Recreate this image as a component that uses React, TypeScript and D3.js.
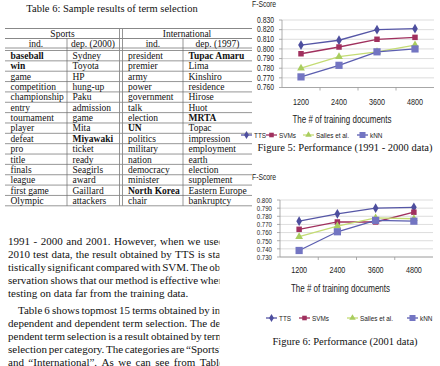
import React from "react";
import * as d3 from "d3";

// ---- table data ----
const tableTitle = "Table 6: Sample results of term selection";
const groupHeaders = ["Sports", "International"];
const colHeaders = ["ind.", "dep. (2000)", "ind.", "dep. (1997)"];
const sportsInd = ["baseball", "win", "game", "competition", "championship", "entry", "tournament", "player", "defeat", "pro", "title", "finals", "league", "first game", "Olympic"];
const sportsDep = ["Sydney", "Toyota", "HP", "hung-up", "Paku", "admission", "game", "Mita", "Miyawaki", "ticket", "ready", "Seagirls", "award", "Gaillard", "attackers"];
const intlInd = ["president", "premier", "army", "power", "government", "talk", "election", "UN", "politics", "military", "nation", "democracy", "minister", "North Korea", "chair"];
const intlDep = ["Tupac Amaru", "Lima", "Kinshiro", "residence", "Hirose", "Huot", "MRTA", "Topac", "impression", "employment", "earth", "election", "supplement", "Eastern Europe", "bankruptcy"];
const boldTerms = ["baseball", "win", "Miyawaki", "UN", "North Korea", "Tupac Amaru", "MRTA"];

// ---- body text ----
const para1 = [
  "1991 - 2000 and 2001. However, when we used",
  "2010 test data, the result obtained by TTS is sta-",
  "tistically significant compared with SVM. The ob-",
  "servation shows that our method is effective when",
  "testing on data far from the training data.",
];
const para2 = [
  "Table 6 shows topmost 15 terms obtained by in-",
  "dependent and dependent term selection. The de-",
  "pendent term selection is a result obtained by term",
  "selection per category. The categories are \u201CSports\u201D",
  "and \u201CInternational\u201D. As we can see from Table",
];

// ---- chart data ----
const trainSizes = ["1200", "2400", "3600", "4800"];
const seriesNames = ["TTS", "SVMs", "Salles et al.", "kNN"];
const fig5TTS = [0.804, 0.809, 0.820, 0.821];
const fig5SVM = [0.795, 0.802, 0.810, 0.812];
const fig5Salles = [0.780, 0.792, 0.797, 0.804];
const fig5KNN = [0.771, 0.783, 0.797, 0.800];
const fig5Ticks = [0.76, 0.77, 0.78, 0.79, 0.8, 0.81, 0.82, 0.83];
const fig6TTS = [0.774, 0.783, 0.790, 0.791];
const fig6SVM = [0.764, 0.773, 0.773, 0.785];
const fig6Salles = [0.755, 0.768, 0.778, 0.777];
const fig6KNN = [0.738, 0.761, 0.775, 0.774];
const fig6Ticks = [0.73, 0.74, 0.75, 0.76, 0.77, 0.78, 0.79, 0.8];

const SERIF = "'Liberation Serif', 'Times New Roman', serif";
const SANS = "'Liberation Sans', Arial, sans-serif";

const seriesStyle = [
  { line: "#5556a6", fill: "#4d4e9e", symbol: d3.symbolDiamond, size: 28 },
  { line: "#a0305e", fill: "#a0305e", symbol: d3.symbolSquare, size: 30 },
  { line: "#c4dc74", fill: "#a9cd5f", symbol: d3.symbolTriangle, size: 26 },
  { line: "#5b5eb0", fill: "#7375c2", symbol: d3.symbolSquare, size: 52 },
];

let measureCtx: CanvasRenderingContext2D | null = null;
function textWidth(s: string, font: string) {
  if (!measureCtx) measureCtx = document.createElement("canvas").getContext("2d");
  if (!measureCtx) return s.length * 5;
  measureCtx.font = font;
  return measureCtx.measureText(s).width;
}

// condensed sans text, like Arial Narrow in the charts
function Narrow({ x, y, size, anchor, children }: { x: number; y: number; size: number; anchor?: string; children: React.ReactNode }) {
  return (
    <text transform={`translate(${x},${y}) scale(0.8,1)`} fontSize={size} fontFamily={SANS} textAnchor={anchor || "start"} fill="#222">
      {children}
    </text>
  );
}

// one justified (or ragged) line of body text
function TextLine({ line, x, y, width, justify }: { line: string; x: number; y: number; width: number; justify: boolean }) {
  const font = `11px "Liberation Serif"`;
  const words = line.split(" ");
  const widths = words.map((w) => textWidth(w, font));
  const space = textWidth(" ", font);
  const gap = justify && words.length > 1 ? (width - d3.sum(widths)) / (words.length - 1) : space;
  let cx = x;
  return (
    <g>
      {words.map((w, i) => {
        const px = cx;
        cx += widths[i] + gap;
        return (
          <text key={i} x={px} y={y} fontSize={11} fontFamily={SERIF} fill="#111">
            {w}
          </text>
        );
      })}
    </g>
  );
}

function Table() {
  const cols = [sportsInd, sportsDep, intlInd, intlDep];
  const colEdges = [5, 67, 121, 183, 252];
  const rows = d3.scaleBand<number>().domain(d3.range(15)).range([50.5, 205.8]);
  const line = "#6a6a6a";
  return (
    <g fontFamily={SERIF} fill="#111">
      <text x={112} y={11.5} fontSize={10.5} textAnchor="middle">{tableTitle}</text>
      <line x1={5} x2={252} y1={28.5} y2={28.5} stroke={line} strokeWidth={0.8} />
      <line x1={5} x2={252} y1={38.5} y2={38.5} stroke={line} strokeWidth={0.8} />
      <line x1={5} x2={252} y1={48} y2={48} stroke="#888" strokeWidth={0.9} />
      <line x1={5} x2={252} y1={50.5} y2={50.5} stroke="#888" strokeWidth={0.9} />
      {rows.domain().map((r) => (
        <line key={r} x1={5} x2={252} y1={(rows(r) as number) + rows.bandwidth()} y2={(rows(r) as number) + rows.bandwidth()} stroke={line} strokeWidth={0.7} />
      ))}
      <line x1={colEdges[1]} x2={colEdges[1]} y1={38.5} y2={205.8} stroke={line} strokeWidth={0.7} />
      <line x1={colEdges[3]} x2={colEdges[3]} y1={38.5} y2={205.8} stroke={line} strokeWidth={0.7} />
      <line x1={119.5} x2={119.5} y1={28.5} y2={205.8} stroke="#888" strokeWidth={0.9} />
      <line x1={122.5} x2={122.5} y1={28.5} y2={205.8} stroke="#888" strokeWidth={0.9} />
      <text x={(colEdges[0] + 120) / 2} y={36.5} fontSize={9.5} textAnchor="middle">{groupHeaders[0]}</text>
      <text x={(122 + colEdges[4]) / 2} y={36.5} fontSize={9.5} textAnchor="middle">{groupHeaders[1]}</text>
      {colHeaders.map((h, i) => (
        <text key={h + i} x={(colEdges[i] + colEdges[i + 1]) / 2 + (i === 1 ? -1 : i === 2 ? 1 : 0)} y={46.5} fontSize={9.5} textAnchor="middle">{h}</text>
      ))}
      {cols.map((col, ci) =>
        col.map((term, ri) => (
          <text
            key={ci + "-" + ri}
            x={colEdges[ci] + (ci === 2 ? 7 : 5.5)}
            y={(rows(ri) as number) + rows.bandwidth() / 2 + 3.3}
            fontSize={9.5}
            fontWeight={boldTerms.includes(term) && !(ci === 3 && term === "election") ? "bold" : "normal"}
          >
            {term}
          </text>
        ))
      )}
    </g>
  );
}

type ChartProps = {
  series: number[][];
  ticks: number[];
  tickSize: number;
  xRange: [number, number];
  yRange: [number, number];
  fscoreY: number;
  xLabelY: number;
  titleY: number;
  legendY: number;
  legendX: number[];
  caption: string;
  captionY: number;
};

function LineChart(p: ChartProps) {
  const x = d3.scaleBand<string>().domain(trainSizes).range(p.xRange);
  const y = d3.scaleLinear().domain([p.ticks[0], p.ticks[p.ticks.length - 1]]).range(p.yRange);
  const cx = (d: string) => (x(d) as number) + x.bandwidth() / 2;
  const line = d3.line<number>().x((_, i) => cx(trainSizes[i])).y((v) => y(v));
  const [x0, x1] = p.xRange;
  const yBottom = p.yRange[0];
  const sym = (i: number, k = 1) => d3.symbol().type(seriesStyle[i].symbol).size(seriesStyle[i].size * k)() as string;
  return (
    <g>
      <Narrow x={252} y={p.fscoreY} size={8.5}>F-Score</Narrow>
      {p.ticks.map((t) => (
        <g key={t}>
          <line x1={x0} x2={x1} y1={y(t)} y2={y(t)} stroke="#d4d4d4" strokeWidth={0.8} />
          <line x1={x0 - 3} x2={x0} y1={y(t)} y2={y(t)} stroke="#999" strokeWidth={0.8} />
          <Narrow x={x0 - 8} y={y(t) + 2.8} size={p.tickSize} anchor="end">
            {d3.format(".3f")(t)}
          </Narrow>
        </g>
      ))}
      <line x1={x0} x2={x0} y1={p.yRange[1]} y2={yBottom} stroke="#999" strokeWidth={0.8} />
      <line x1={x0} x2={x1} y1={yBottom} y2={yBottom} stroke="#999" strokeWidth={0.8} />
      {trainSizes.slice(1).map((d) => (
        <line key={d} x1={x(d)} x2={x(d)} y1={yBottom} y2={yBottom + 3} stroke="#999" strokeWidth={0.8} />
      ))}
      {trainSizes.map((d) => (
        <Narrow key={d} x={cx(d)} y={p.xLabelY} size={9} anchor="middle">{d}</Narrow>
      ))}
      <Narrow x={(x0 + x1) / 2 - 16} y={p.titleY} size={10} anchor="middle">
        The # of training documents
      </Narrow>
      {p.series.map((vals, si) => (
        <g key={si}>
          <path d={line(vals) as string} fill="none" stroke={seriesStyle[si].line} strokeWidth={1.3} />
          {vals.map((v, i) => (
            <path key={i} d={sym(si)} transform={`translate(${cx(trainSizes[i])},${y(v)})`} fill={seriesStyle[si].fill} />
          ))}
        </g>
      ))}
      {seriesNames.map((n, si) => (
        <g key={n}>
          <line x1={p.legendX[si]} x2={p.legendX[si] + 11} y1={p.legendY} y2={p.legendY} stroke={seriesStyle[si].line} strokeWidth={1.3} />
          <path d={sym(si, 0.7)} transform={`translate(${p.legendX[si] + 5.5},${p.legendY})`} fill={seriesStyle[si].fill} />
          <Narrow x={p.legendX[si] + 13} y={p.legendY + 3} size={8}>{n}</Narrow>
        </g>
      ))}
      <text x={345} y={p.captionY} fontSize={10.5} fontFamily={SERIF} textAnchor="middle" fill="#111">{p.caption}</text>
    </g>
  );
}

export default function App() {
  const lineH = 13.1;
  return (
    <svg width={440} height={366} style={{ position: "absolute", left: 0, top: 0, background: "#fff" }}>
      <rect width={440} height={366} fill="#fff" />
      <Table />
      <defs>
        <clipPath id="textClip">
          <rect x={0} y={225} width={219.5} height={141} />
        </clipPath>
      </defs>
      <g clipPath="url(#textClip)">
        {para1.map((l, i) => (
          <TextLine key={"a" + i} line={l} x={8} y={245 + i * lineH} width={216} justify={i < para1.length - 1} />
        ))}
        {para2.map((l, i) => (
          <TextLine key={"b" + i} line={l} x={i === 0 ? 18 : 8} y={313.5 + i * lineH} width={i === 0 ? 206 : 216} justify={true} />
        ))}
      </g>
      <LineChart
        series={[fig5TTS, fig5SVM, fig5Salles, fig5KNN]}
        ticks={fig5Ticks}
        tickSize={8.5}
        xRange={[282, 434]}
        yRange={[87.5, 20]}
        fscoreY={7}
        xLabelY={105}
        titleY={123}
        legendY={135}
        legendX={[241, 266, 303, 357]}
        caption="Figure 5: Performance (1991 - 2000 data)"
        captionY={151}
      />
      <LineChart
        series={[fig6TTS, fig6SVM, fig6Salles, fig6KNN]}
        ticks={fig6Ticks}
        tickSize={7.6}
        xRange={[280, 433]}
        yRange={[257, 200]}
        fscoreY={180}
        xLabelY={273}
        titleY={292}
        legendY={318}
        legendX={[266, 299, 347, 407]}
        caption="Figure 6: Performance (2001 data)"
        captionY={345}
      />
    </svg>
  );
}
